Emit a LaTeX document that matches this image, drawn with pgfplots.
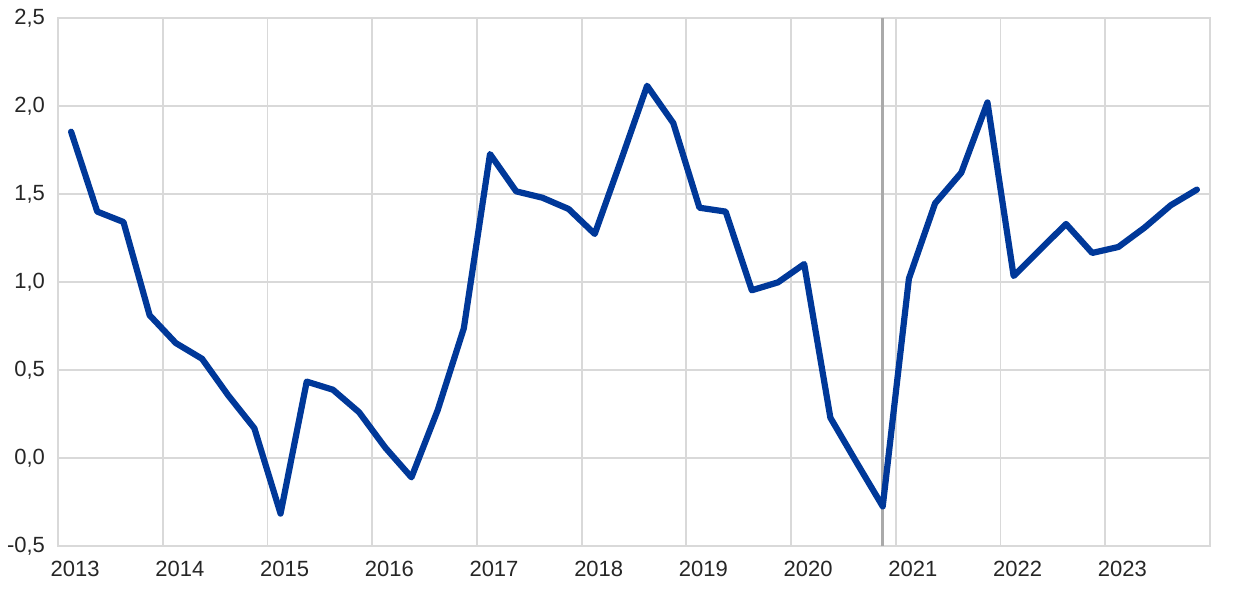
\documentclass[border=0pt]{standalone}
\usepackage{pgfplots}
\pgfplotsset{compat=1.18}
\usepackage{fontspec}
\setmainfont{Liberation Sans}
\definecolor{ecbblue}{RGB}{0,56,153}
\definecolor{gridgray}{RGB}{217,217,217}
\definecolor{vgray}{RGB}{170,170,170}
\begin{document}
\begin{tikzpicture}
\begin{axis}[
  scale only axis,
  width=576pt, height=264pt,
  xmin=-0.5, xmax=43.5,
  ymin=-0.5, ymax=2.5,
  xtick={0,4,...,40},
  xticklabels={2013,2014,2015,2016,2017,2018,2019,2020,2021,2022,2023},
  minor xtick={3.5,7.5,...,43.5},
  ytick={-0.5,0,0.5,1,1.5,2,2.5},
  yticklabels={{-0,5},{0,0},{0,5},{1,0},{1,5},{2,0},{2,5}},
  xmajorgrids=false, xminorgrids=true, ymajorgrids=true,
  grid style={gridgray, line width=0.9pt},
  minor grid style={gridgray, line width=0.9pt},
  axis line style={gridgray, line width=0.9pt},
  major tick length=0pt, minor tick length=0pt,
  tick style={draw=none},
  ticklabel style={font=\fontsize{11}{12}\selectfont, text=black!85},
  xticklabel style={yshift=-4pt, xshift=2pt},
  yticklabel style={xshift=-3pt},
  clip=false,
]
\addplot[vgray, line width=1.6pt] coordinates {(31,-0.5) (31,2.5)};
\addplot[ecbblue, line width=3.1pt, line join=round, line cap=round] coordinates {
(0,1.854) (1,1.400) (2,1.341) (3,0.811)
(4,0.653) (5,0.564) (6,0.356) (7,0.169)
(8,-0.316) (9,0.434) (10,0.388) (11,0.260)
(12,0.059) (13,-0.110) (14,0.271) (15,0.737)
(16,1.727) (17,1.515) (18,1.479) (19,1.415)
(20,1.273) (21,1.690) (22,2.115) (23,1.903)
(24,1.422) (25,1.400) (26,0.953) (27,0.998)
(28,1.102) (29,0.229) (30,-0.025) (31,-0.275)
(32,1.019) (33,1.447) (34,1.621) (35,2.020)
(36,1.034) (37,1.182) (38,1.330) (39,1.165)
(40,1.199) (41,1.309) (42,1.436) (43,1.525)
};
\end{axis}
\path[use as bounding box] (-29pt,-21pt) rectangle (591pt,273pt);
\end{tikzpicture}
\end{document}
